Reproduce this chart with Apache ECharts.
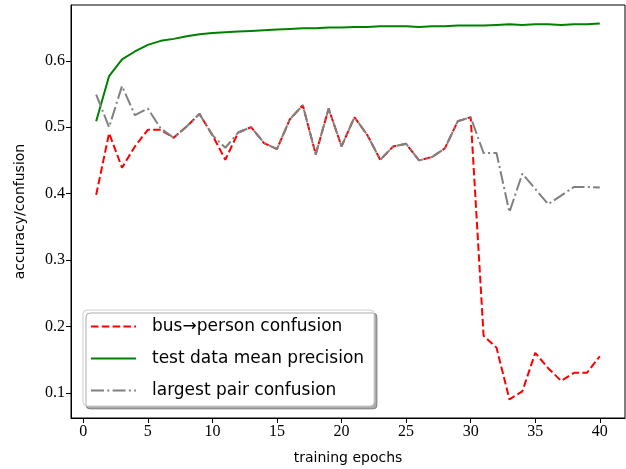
<!DOCTYPE html>
<html>
<head>
<meta charset="utf-8">
<script src="https://cdn.jsdelivr.net/npm/echarts@6/dist/echarts.min.js"></script>
<style>
  html, body { margin: 0; padding: 0; background: #fff; }
  #chart { width: 626px; height: 469px; }
</style>
</head>
<body>
<div id="chart"></div>
<script>
// epochs 1..40
var epochs = [];
for (var i = 1; i <= 40; i++) epochs.push(i);

var busPerson = [0.398, 0.491, 0.439, 0.471, 0.496, 0.496, 0.484, 0.501, 0.520, 0.488,
  0.451, 0.492, 0.500, 0.476, 0.467, 0.512, 0.533, 0.459, 0.528, 0.471,
  0.515, 0.488, 0.451, 0.471, 0.475, 0.450, 0.455, 0.468, 0.509, 0.515,
  0.186, 0.168, 0.090, 0.102, 0.160, 0.137, 0.118, 0.130, 0.130, 0.155];

var meanPrecision = [0.509, 0.577, 0.602, 0.614, 0.624, 0.630, 0.633, 0.637, 0.640, 0.642,
  0.643, 0.644, 0.645, 0.646, 0.647, 0.648, 0.649, 0.649, 0.650, 0.650,
  0.651, 0.651, 0.652, 0.652, 0.652, 0.651, 0.652, 0.652, 0.653, 0.653,
  0.653, 0.654, 0.655, 0.654, 0.655, 0.655, 0.654, 0.655, 0.655, 0.656];

var largestPair = [0.549, 0.500, 0.562, 0.518, 0.528, 0.498, 0.484, 0.501, 0.520, 0.488,
  0.469, 0.492, 0.500, 0.476, 0.467, 0.512, 0.533, 0.459, 0.528, 0.471,
  0.515, 0.488, 0.451, 0.471, 0.475, 0.450, 0.455, 0.468, 0.509, 0.515,
  0.461, 0.461, 0.372, 0.430, 0.407, 0.384, 0.397, 0.410, 0.410, 0.409];

var xTicks = [0, 5, 10, 15, 20, 25, 30, 35, 40];
var yTicks = [0.1, 0.2, 0.3, 0.4, 0.5, 0.6];
var seriesNames = ["bus\u2192person confusion", "test data mean precision", "largest pair confusion"];

function pairs(vals) {
  return epochs.map(function (e, k) { return [e, vals[k]]; });
}

var serif = "'Liberation Serif', serif";
var sans = "'DejaVu Sans', sans-serif";

var myChart = echarts.init(document.getElementById("chart"));
var opt = {
  animation: false,
  grid: {
    left: 71, right: 1, top: 5, bottom: 51,
    show: true, borderColor: "#000", borderWidth: 1,
    outerBoundsMode: "none"
  },
  legend: {
    orient: "vertical",
    left: 83, top: 310,
    itemWidth: 45, itemHeight: 12, itemGap: 15,
    padding: [8, 10, 7, 7],
    backgroundColor: "#fff",
    borderColor: "#cccccc", borderWidth: 1, borderRadius: 4,
    shadowColor: "rgba(0,0,0,0.33)", shadowBlur: 0, shadowOffsetX: 3, shadowOffsetY: 3,
    itemStyle: { opacity: 0 }, // no marker on the legend line
    textStyle: { fontFamily: sans, fontSize: 17, color: "#000", padding: [0, 0, 0, 11] },
    data: seriesNames
  },
  xAxis: {
    type: "value",
    min: -0.95, max: 41.95,
    name: "training epochs",
    nameLocation: "middle", nameGap: 33,
    nameTextStyle: { fontFamily: sans, fontSize: 14, color: "#000" },
    axisLine: { onZero: false, lineStyle: { color: "#000", width: 1 } },
    axisTick: { length: 5, lineStyle: { color: "#000" }, customValues: xTicks },
    axisLabel: { fontFamily: serif, fontSize: 16, color: "#000", margin: 6, customValues: xTicks },
    splitLine: { show: false }
  },
  yAxis: {
    type: "value",
    min: 0.062, max: 0.684,
    name: "accuracy/confusion",
    nameLocation: "middle", nameRotate: 90, nameGap: 44,
    nameTextStyle: { fontFamily: sans, fontSize: 14, color: "#000" },
    axisLine: { show: true, onZero: false, lineStyle: { color: "#000", width: 1 } },
    axisTick: { show: true, length: 5, lineStyle: { color: "#000" }, customValues: yTicks },
    axisLabel: {
      fontFamily: serif, fontSize: 16, color: "#000", margin: 6, customValues: yTicks,
      formatter: function (v) { return v.toFixed(1); }
    },
    splitLine: { show: false }
  },
  series: [
    {
      name: seriesNames[0], type: "line", symbol: "none",
      color: "#ff0000",
      lineStyle: { color: "#ff0000", width: 2, type: [7.5, 3.3] },
      data: pairs(busPerson)
    },
    {
      name: seriesNames[1], type: "line", symbol: "none",
      color: "#008000",
      lineStyle: { color: "#008000", width: 2 },
      data: pairs(meanPrecision)
    },
    {
      name: seriesNames[2], type: "line", symbol: "none",
      color: "#808080",
      lineStyle: { color: "#808080", width: 2, type: [13, 3.3, 2, 3.3] },
      data: pairs(largestPair)
    }
  ]
};
myChart.setOption(opt);
</script>
</body>
</html>
